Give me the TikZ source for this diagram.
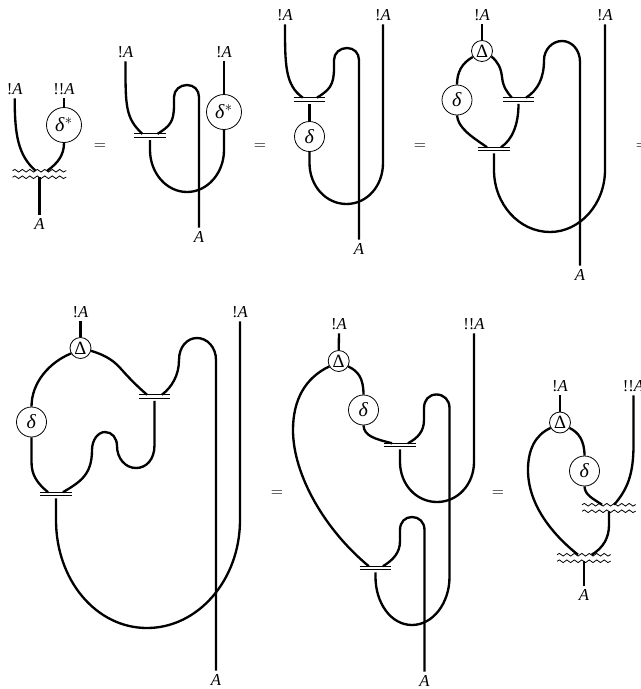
\documentclass[tikz,border=0pt]{standalone}
\usepackage{fontspec}
\setmainfont{Liberation Serif}
\usetikzlibrary{decorations.pathmorphing}

\begin{document}
\begin{tikzpicture}[x=0.75pt, y=-0.75pt, font=\fontsize{12.5}{14}\selectfont]
    \tikzset{
      wire/.style = {line width=1.75pt},
      lab/.style = {inner sep=0pt, minimum height=13.5pt},
      bigbox/.style = {circle, draw=black, line width=0.6pt, fill=white, inner sep=0pt, minimum size=26.25pt, font=\fontsize{15}{16}\selectfont},
      midbox/.style = {circle, draw=black, line width=0.6pt, fill=white, inner sep=0pt, minimum size=22.5pt, font=\fontsize{15}{16}\selectfont},
      smallbox/.style = {circle, draw=black, line width=0.6pt, fill=white, inner sep=0pt, minimum size=15.75pt, font=\fontsize{14}{15}\selectfont},
      gate/.style = {inner sep=0pt, minimum width=23.25pt, minimum height=2.25pt,
        append after command={(\tikzlastnode.north west) edge[line width=0.75pt] (\tikzlastnode.north east)
          (\tikzlastnode.south west) edge[line width=0.75pt] (\tikzlastnode.south east)}},
      wavegate/.style = {inner sep=0pt, minimum width=40pt, minimum height=4.5pt,
        append after command={(\tikzlastnode.north west) edge[wavy] (\tikzlastnode.north east)
          (\tikzlastnode.south west) edge[wavy] (\tikzlastnode.south east)}},
      wavy/.style = {line width=0.6pt, decorate, decoration={snake, segment length=5.6pt, amplitude=1pt}},
      under/.style = {shorten <=2pt}
    }

    \useasboundingbox (0,0) rectangle (641,689);

    \node (eq_a) at (100,147) {$=$};
    \node (eq_b) at (260,147) {$=$};
    \node (eq_c) at (420,147) {$=$};
    \node (eq_d) at (642,147) {$=$};
    \node (eq_e) at (277,494) {$=$};
    \node (eq_f) at (498,494) {$=$};

    \node (a_in) [lab] at (14.7,89) {!\textit{A}};
    \node (a_inb) [lab] at (64,89) {!!\textit{A}};
    \node (a_dual) [bigbox] at (64,125) {\textit{δ}$^*$};
    \node (a_gate) [wavegate] at (39.5,174) {};
    \node (a_out) [lab] at (39.5,224) {\textit{A}};
    \draw [wire] (a_in.south) .. controls (14.7,135) and (18,155) .. ([xshift=-3pt]a_gate.north);
    \draw [wire] (a_inb.south) -- (a_dual.north);
    \draw [wire] (a_dual.south) .. controls (64,155) and (58,163) .. ([xshift=5.8pt]a_gate.north);
    \draw [wire] (a_gate.south) -- (a_out.north);

    \node (b_in) [lab] at (125.5,52) {!\textit{A}};
    \node (b_inb) [lab] at (224,52) {!\textit{A}};
    \node (b_dual) [bigbox] at (224,112) {\textit{δ}$^*$};
    \node (b_gate) [gate] at (150,135.7) {};
    \node (b_out) [lab] at (199,237) {\textit{A}};
    \draw [wire] (b_in.south) .. controls (125.5,105) and (125,118) .. ([xshift=-5.6pt]b_gate.north);
    \draw [wire] ([xshift=5.6pt]b_gate.north) .. controls (170,126) and (174,122) .. (174,105) -- (174,97)
      .. controls (174,90) and (180,85) .. (187,85) .. controls (194,85) and (199,90) .. (199,97) -- (b_out.north);
    \draw [wire, under] (b_gate.south) -- (150,150) .. controls (150,173) and (166.5,192) .. (187,192)
      .. controls (207.5,192) and (224,173) .. (224,150) -- (b_dual.south);
    \draw [wire] (b_inb.south) -- (b_dual.north);

    \node (c_in) [lab] at (285,15) {!\textit{A}};
    \node (c_inb) [lab] at (383,15) {!\textit{A}};
    \node (c_gate) [gate] at (309.5,99.5) {};
    \node (c_delta) [midbox] at (309.5,136.5) {\textit{δ}};
    \node (c_out) [lab] at (359,249) {\textit{A}};
    \draw [wire] (c_in.south) .. controls (285,65) and (285,85) .. ([xshift=-5pt]c_gate.north);
    \draw [wire] ([xshift=5.6pt]c_gate.north) .. controls (329,90) and (334,86) .. (334,68) -- (334,60)
      .. controls (334,53) and (340,48) .. (347,48) .. controls (354,48) and (359,53) .. (359,60) -- (c_out.north);
    \draw [wire, under] (c_gate.south) -- (c_delta.north);
    \draw [wire] (c_delta.south) -- (309.5,163) .. controls (309.5,186) and (326,204) .. (346.5,204)
      .. controls (367,204) and (383,186) .. (383,163) -- (c_inb.south);

    \node (d_in) [lab] at (482,15) {!\textit{A}};
    \node (d_inb) [lab] at (605,15) {!\textit{A}};
    \node (d_copy) [smallbox] at (482,51) {Δ};
    \node (d_delta) [midbox] at (457,100) {\textit{δ}};
    \node (d_gatea) [gate] at (518.5,99.5) {};
    \node (d_gateb) [gate] at (494,149) {};
    \node (d_out) [lab] at (580,275) {\textit{A}};
    \draw [wire] (d_in.south) -- (d_copy.north);
    \draw [wire] (d_copy.-147) .. controls (462,63) and (457,72) .. (d_delta.north);
    \draw [wire] (d_copy.-30) .. controls (498,62) and (501,68) .. (502,77)
      .. controls (503,87) and (507,92) .. ([xshift=-5pt]d_gatea.north);
    \draw [wire] ([xshift=5.6pt]d_gatea.north) .. controls (538,90) and (544,78) .. (544,60)
      .. controls (544,50) and (552,41) .. (562,41) .. controls (572,41) and (580,50) .. (580,62) -- (d_out.north);
    \draw [wire] (d_delta.south) .. controls (458,128) and (472,137) .. ([xshift=-5.2pt]d_gateb.north);
    \draw [wire, under] (d_gatea.south) .. controls (518.5,125) and (512,140) .. ([xshift=5.2pt]d_gateb.north);
    \draw [wire, under] (d_gateb.south) -- (494,170) .. controls (494,204) and (519,232) .. (550,232)
      .. controls (580,232) and (605,204) .. (605,170) -- (d_inb.south);

    \node (e_in) [lab] at (80.5,312) {!\textit{A}};
    \node (e_inb) [lab] at (240,312) {!\textit{A}};
    \node (e_copy) [smallbox] at (80.5,348) {Δ};
    \node (e_delta) [midbox] at (31.5,422) {\textit{δ}};
    \node (e_gatea) [gate] at (154.5,396.5) {};
    \node (e_gateb) [gate] at (56,494) {};
    \node (e_out) [lab] at (216,680) {\textit{A}};
    \draw [wire] (e_in.south) -- (e_copy.north);
    \draw [wire] (e_copy.-150) .. controls (50,362) and (31.5,382) .. (e_delta.north);
    \draw [wire] (e_copy.-15) .. controls (108,356) and (115,362) .. (122,370)
      .. controls (130,379) and (138,387) .. ([xshift=-5.6pt]e_gatea.north);
    \draw [wire] ([xshift=5.6pt]e_gatea.north) .. controls (172,387) and (179,375) .. (179,360)
      .. controls (179,347) and (187,338) .. (197,338) .. controls (207,338) and (216,347) .. (216,360) -- (e_out.north);
    \draw [wire] (e_delta.south) -- (31.5,462) .. controls (31.5,475) and (37,483) .. ([xshift=-6pt]e_gateb.north);
    \draw [wire] ([xshift=5.2pt]e_gateb.north) .. controls (80,482) and (92,475) .. (92,450)
      .. controls (92,440) and (98,432) .. (105,432) .. controls (112,432) and (117,438) .. (117,446)
      .. controls (117,458) and (125,468) .. (136,468) .. controls (146,468) and (154.5,460) .. (154.5,445) -- ([yshift=-2pt]e_gatea.south);
    \draw [wire, under] (e_gateb.south) -- (56,520) .. controls (56,580) and (96,628) .. (147,628)
      .. controls (198,628) and (240,580) .. (240,520) -- (e_inb.south);

    \node (f_in) [lab] at (339,324) {!\textit{A}};
    \node (f_inb) [lab] at (474,324) {!!\textit{A}};
    \node (f_copy) [smallbox] at (338.7,361) {Δ};
    \node (f_delta) [midbox] at (363.5,410) {\textit{δ}};
    \node (f_gatea) [gate] at (400,445) {};
    \node (f_gateb) [gate] at (375.5,568) {};
    \node (f_out) [lab] at (424.5,681) {\textit{A}};
    \draw [wire] (f_in.south) -- (f_copy.north);
    \draw [wire] (f_copy.-150) .. controls (305,378) and (293,400) .. (293,430)
      .. controls (293,475) and (325,530) .. ([xshift=-5pt]f_gateb.north);
    \draw [wire] (f_copy.-30) .. controls (358,371) and (363.5,378) .. (f_delta.north);
    \draw [wire] (f_delta.south) .. controls (364,436) and (375,439) .. ([xshift=-6pt]f_gatea.north);
    \draw [wire] ([xshift=6pt]f_gatea.north) .. controls (418,438) and (424,431) .. (424,420) -- (424,408)
      .. controls (424,400) and (429,394.5) .. (436.5,394.5) .. controls (444,394.5) and (449.5,400) .. (449.5,408)
      -- (449.5,577) .. controls (449.5,603) and (433,625) .. (412,625)
      .. controls (391,625) and (375.5,603) .. (375.5,577) -- ([yshift=-2pt]f_gateb.south);
    \draw [wire, under] (f_gatea.south) -- (400,462) .. controls (400,484) and (416,502) .. (437,502)
      .. controls (458,502) and (474,484) .. (474,462) -- (f_inb.south);
    \draw [wire] ([xshift=5.6pt]f_gateb.north) .. controls (393,560) and (400,553) .. (400,541) -- (400,530)
      .. controls (400,522) and (405,517) .. (412,517) .. controls (419,517) and (424.5,522) .. (424.5,530) -- (f_out.north);

    \node (g_in) [lab] at (560,386) {!\textit{A}};
    \node (g_inb) [lab] at (633.5,386) {!!\textit{A}};
    \node (g_copy) [smallbox] at (560,422.5) {Δ};
    \node (g_delta) [midbox] at (584.5,471) {\textit{δ}};
    \node (g_gatea) [wavegate] at (609,508) {};
    \node (g_gateb) [wavegate] at (584,558) {};
    \node (g_out) [lab] at (584,595) {\textit{A}};
    \draw [wire] (g_in.south) -- (g_copy.north);
    \draw [wire] (g_copy.-150) .. controls (535,435) and (528,450) .. (528,470)
      .. controls (528,505) and (553,535) .. ([xshift=-4.5pt]g_gateb.north);
    \draw [wire] (g_copy.-30) .. controls (578,432) and (584.5,440) .. (g_delta.north);
    \draw [wire] (g_delta.south) .. controls (585,495) and (592,498) .. ([xshift=-5.2pt]g_gatea.north);
    \draw [wire] ([xshift=3.8pt]g_gatea.north) .. controls (627,490) and (633.5,475) .. (633.5,445) -- (g_inb.south);
    \draw [wire] (g_gatea.south) -- (609,525) .. controls (609,538) and (603,548) .. ([xshift=5.8pt]g_gateb.north);
    \draw [wire] (g_gateb.south) -- (g_out.north);
\end{tikzpicture}
\end{document}
